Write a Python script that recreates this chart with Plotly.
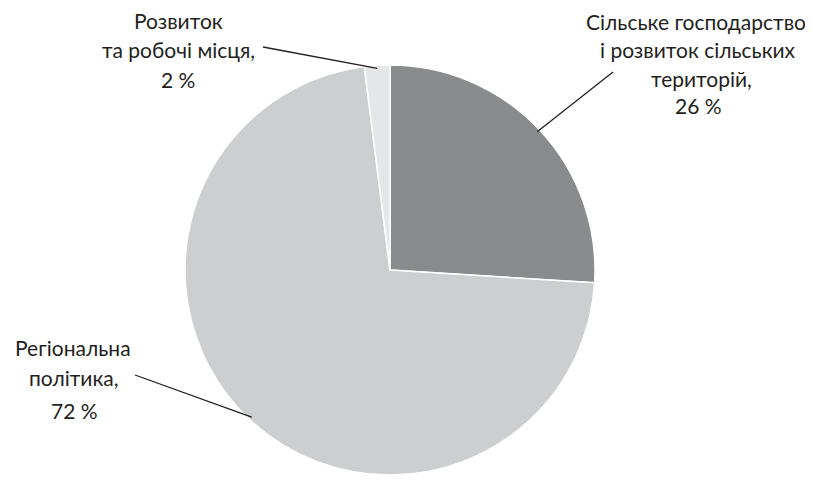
import math
import plotly.graph_objects as go

names = ["Сільське господарство і розвиток сільських територій",
         "Регіональна політика",
         "Розвиток та робочі місця"]
values = [26, 72, 2]
colors = ["#8a8b8d", "#cdced0", "#e5e6e8"]
label_lines = [
    ["Сільське господарство", "і розвиток сільських", "територій,", "26 %"],
    ["Регіональна", "політика,", "72 %"],
    ["Розвиток", "та робочі місця,", "2 %"],
]

W, H = 813, 480
OFF = 8  # page body margin
CX, CY, R = 390, 270, 205


def px(x):
    return (x - OFF) / W


def py(y):
    return 1 - (y - OFF) / H


# label line positions (pixels)
line_pos = [
    [(696, 21), (698, 49), (701, 78), (698, 106)],
    [(73, 347), (74, 377), (74, 410)],
    [(178, 20), (178, 49), (178, 79)],
]
# leader-line outer ends (pixels)
line_out = [(613, 72), (135, 375), (263, 47)]

fig = go.Figure(go.Pie(
    labels=names, values=values, sort=False, direction="clockwise", rotation=0,
    marker=dict(colors=colors, line=dict(color="white", width=1.5)),
    textinfo="none", hoverinfo="label+percent", showlegend=False,
    domain=dict(x=[px(CX - R), px(CX + R)], y=[py(CY + R), py(CY - R)]),
))

total = sum(values)
cum = 0
shapes = []
annotations = []
for i, v in enumerate(values):
    mid = (cum + v / 2) / total * 2 * math.pi
    cum += v
    ex = CX + R * 0.985 * math.sin(mid)
    ey = CY - R * 0.985 * math.cos(mid)
    ox, oy = line_out[i]
    shapes.append(dict(type="line", xref="paper", yref="paper",
                       x0=px(ex), y0=py(ey), x1=px(ox), y1=py(oy),
                       line=dict(color="#231f20", width=1.3)))
    for text, (lx, ly) in zip(label_lines[i], line_pos[i]):
        annotations.append(dict(text=text, xref="paper", yref="paper",
                                x=px(lx), y=py(ly), xanchor="center", yanchor="middle",
                                showarrow=False, align="center",
                                font=dict(family="Lato", size=21, color="#231f20")))

fig.update_layout(width=W, height=H, margin=dict(l=0, r=0, t=0, b=0),
                  paper_bgcolor="white", plot_bgcolor="white",
                  shapes=shapes, annotations=annotations)
fig.write_html("out.html")
